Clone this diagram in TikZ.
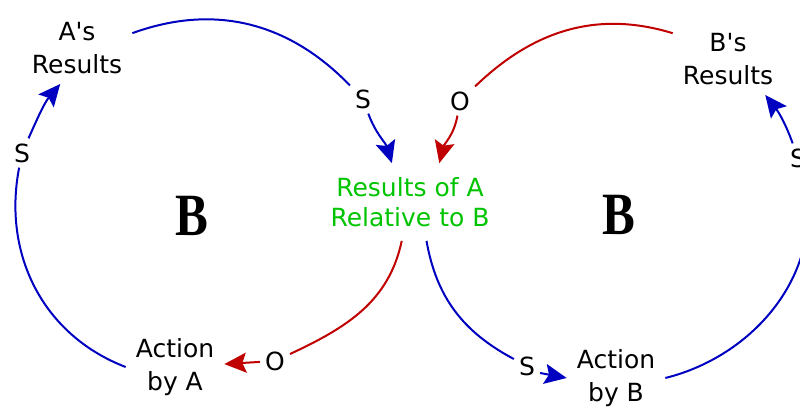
\documentclass[tikz,border=0pt]{standalone}
\usepackage{fontspec}
\usepackage{graphicx}
\setsansfont{DejaVu Sans}
\newfontfamily\loopfont{Liberation Serif}
\usetikzlibrary{arrows.meta}
\definecolor{loopblue}{RGB}{0, 0, 192}
\definecolor{loopred}{RGB}{192, 0, 0}
\definecolor{relgreen}{RGB}{0, 196, 0}

\begin{document}
\begin{tikzpicture}[x=1pt, y=1pt,
    txt/.style={font=\sffamily\fontsize{25}{33}\selectfont, align=center, inner sep=10pt},
    sgn/.style={font=\sffamily\fontsize{25}{30}\selectfont, inner sep=5pt},
    loopB/.style={font=\loopfont\bfseries\fontsize{60}{62}\selectfont},
    blink/.style={draw=loopblue, line width=2pt},
    rlink/.style={draw=loopred, line width=2pt},
    arr/.style={-{Stealth[length=22pt, width=20pt, inset=4pt]}}]
    \useasboundingbox (0,0) rectangle (800,407);

    % variables
    \node[txt] (ares) at (77,359) {A\textquotesingle s\\Results};
    \node[txt] (bres) at (728,348) {B\textquotesingle s\\Results};
    \node[txt, text=relgreen, font=\sffamily\fontsize{25}{30}\selectfont, inner sep=14pt] (rel) at (410,205) {Results of A\\Relative to B};
    \node[txt] (acta) at (175,40) {Action\\by A};
    \node[txt] (actb) at (616,29) {Action\\by B};

    % loop markers
    \node[loopB] (loopa) at (192,191) {\scalebox{0.82}[1]{B}};
    \node[loopB] (loopb) at (619,192) {\scalebox{0.82}[1]{B}};

    % link signs
    \node[sgn] (sa1) at (363,308) {S};
    \node[sgn] (sa2) at (22,254) {S};
    \node[sgn] (oa1) at (460,306) {O};
    \node[sgn] (oa2) at (275,46) {O};
    \node[sgn] (sb1) at (527,41) {S};
    \node[sgn] (sb2) at (798,249) {S};

    % left loop
    \draw[blink] (ares.15) to[out=20, in=134] (sa1);
    \draw[blink, arr] (sa1) to[out=-70, in=107] (rel.115);
    \draw[rlink] (rel) to[out=-102, in=25] (oa2);
    \draw[rlink, arr] (oa2) -- (acta);
    \draw[blink] (acta.west) to[out=159, in=-101] (sa2);
    \draw[blink, arr] (sa2) to[out=66, in=-130] (ares.245);

    % right loop
    \draw[rlink] (bres.155) to[out=163, in=44] (oa1);
    \draw[rlink, arr] (oa1) to[out=-100, in=76] (rel.53);
    \draw[blink] (rel.-67) to[out=-80, in=152] (sb1);
    \draw[blink, arr] ([yshift=-7pt]sb1.east) -- (actb.west);
    \draw[blink] (actb.east) to[out=14, in=-74] (sb2);
    \draw[blink, arr] (sb2) to[out=110, in=-52] (bres.-44);
\end{tikzpicture}
\end{document}
